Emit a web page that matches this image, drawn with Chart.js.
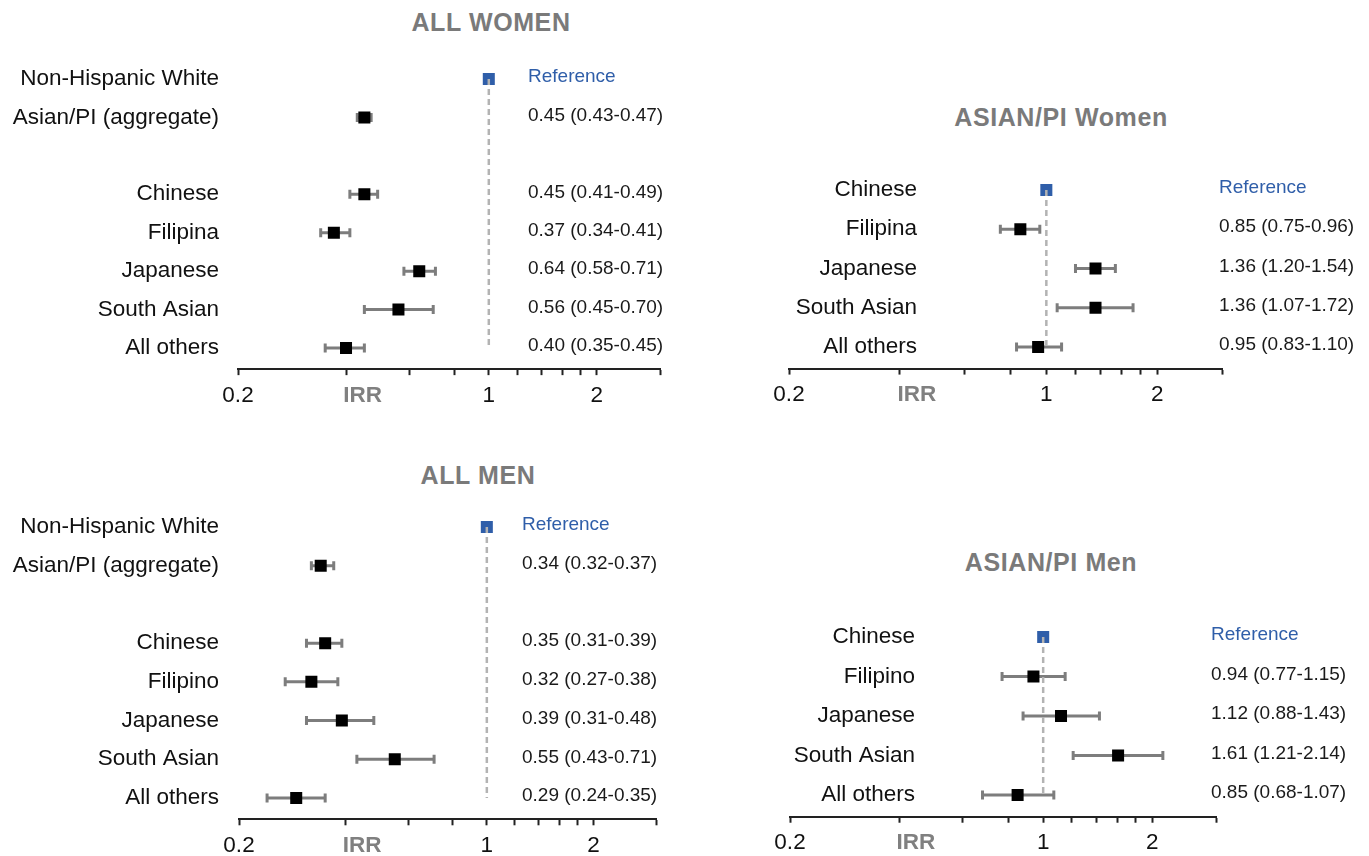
<!DOCTYPE html>
<html>
<head>
<meta charset="utf-8">
<script src="https://cdn.jsdelivr.net/npm/chart.js@4.4.0/dist/chart.umd.min.js"></script>
<style>
  body { margin: 0; width: 1369px; height: 856px; background: #fff; overflow: hidden; position: relative;
         font-family: "Liberation Sans", Arial, Helvetica, sans-serif; }
  canvas { position: absolute; }
  .title { position: absolute; transform: translate(-50%, -50%); font-weight: bold; font-size: 25px;
           letter-spacing: 0.6px; color: #7a7a7a; white-space: nowrap; }
</style>
</head>
<body>
<div class="title" style="left:491px;top:22px">ALL WOMEN</div>
<div class="title" style="left:1061px;top:117px">ASIAN/PI Women</div>
<div class="title" style="left:478px;top:475px">ALL MEN</div>
<div class="title" style="left:1051px;top:562px">ASIAN/PI Men</div>
<canvas id="all-women"></canvas>
<canvas id="asian-women"></canvas>
<canvas id="all-men"></canvas>
<canvas id="asian-men"></canvas>
<script>
// IRR with 95% CI
const women_groups = ["Non-Hispanic White", "Asian/PI (aggregate)", "", "Chinese", "Filipina", "Japanese", "South Asian", "All others"];
const women_irr = [1, 0.45, null, 0.45, 0.37, 0.64, 0.56, 0.40];
const women_low = [null, 0.43, null, 0.41, 0.34, 0.58, 0.45, 0.35];
const women_high = [null, 0.47, null, 0.49, 0.41, 0.71, 0.70, 0.45];

const asian_women_groups = ["Chinese", "Filipina", "Japanese", "South Asian", "All others"];
const asian_women_irr = [1, 0.85, 1.36, 1.36, 0.95];
const asian_women_low = [null, 0.75, 1.20, 1.07, 0.83];
const asian_women_high = [null, 0.96, 1.54, 1.72, 1.10];

const men_groups = ["Non-Hispanic White", "Asian/PI (aggregate)", "", "Chinese", "Filipino", "Japanese", "South Asian", "All others"];
const men_irr = [1, 0.34, null, 0.35, 0.32, 0.39, 0.55, 0.29];
const men_low = [null, 0.32, null, 0.31, 0.27, 0.31, 0.43, 0.24];
const men_high = [null, 0.37, null, 0.39, 0.38, 0.48, 0.71, 0.35];

const asian_men_groups = ["Chinese", "Filipino", "Japanese", "South Asian", "All others"];
const asian_men_irr = [1, 0.94, 1.12, 1.61, 0.85];
const asian_men_low = [null, 0.77, 0.88, 1.21, 0.68];
const asian_men_high = [null, 1.15, 1.43, 2.14, 1.07];

const irr_ticks = [0.2, 0.4, 0.445, 0.6, 0.8, 1, 1.2, 1.4, 1.6, 1.8, 2, 3];
const irr_tick_labels = ["0.2", "", "IRR", "", "", "1", "", "", "", "", "2", ""];

const font_family = '"Liberation Sans", Arial, Helvetica, sans-serif';
const blue = "#2f5ea9";
const grey = "#7d7d7d";

// box = [left, top, width, height] of the canvas, plot = x of 0.2 and 3, rows = y of first and last row
const panels = [
  { id: "all-women", groups: women_groups, irr: women_irr, low: women_low, high: women_high,
    box: [0, 40, 680, 400], plot: [238, 660], rows: [79, 348], label_x: 219, stat_x: 528 },
  { id: "asian-women", groups: asian_women_groups, irr: asian_women_irr, low: asian_women_low, high: asian_women_high,
    box: [690, 140, 679, 300], plot: [789, 1222], rows: [190, 347], label_x: 917, stat_x: 1219 },
  { id: "all-men", groups: men_groups, irr: men_irr, low: men_low, high: men_high,
    box: [0, 480, 680, 376], plot: [239, 656], rows: [527, 798], label_x: 219, stat_x: 522 },
  { id: "asian-men", groups: asian_men_groups, irr: asian_men_irr, low: asian_men_low, high: asian_men_high,
    box: [690, 590, 679, 266], plot: [790, 1216], rows: [637, 795], label_x: 915, stat_x: 1211 },
];

const get_stats = (irr, low, high) => irr.map((v, i) => {
  if (v === null) return "";
  if (low[i] === null) return "Reference";
  return `${v.toFixed(2)} (${low[i].toFixed(2)}-${high[i].toFixed(2)})`;
});

// group names on the left, estimates on the right, one per row of the y scale
const make_row_text = (p) => {
  const stats = get_stats(p.irr, p.low, p.high);
  const label_x = p.label_x - p.box[0];
  const stat_x = p.stat_x - p.box[0];
  return {
    id: "row_text",
    afterDraw: (chart) => {
      const { ctx } = chart;
      const y_scale = chart.scales.y;
      ctx.save();
      ctx.textBaseline = "middle";
      p.groups.forEach((label, i) => {
        const y = y_scale.getPixelForValue(i);
        ctx.font = `22.5px ${font_family}`;
        ctx.fillStyle = "#111";
        ctx.textAlign = "right";
        ctx.fillText(label, label_x, y);
        ctx.font = `19px ${font_family}`;
        ctx.fillStyle = i === 0 ? blue : "#1a1a1a";
        ctx.textAlign = "left";
        ctx.fillText(stats[i], stat_x, y - 2);
      });
      ctx.restore();
    },
  };
};

const get_datasets = (p) => {
  const last = p.groups.length - 1;
  const ref = p.irr[0];
  const ci_sets = [];
  p.irr.forEach((v, i) => {
    if (p.low[i] === null) return;
    ci_sets.push({
      data: [{ x: p.low[i], y: i }, { x: p.high[i], y: i }],
      showLine: true,
      borderColor: grey,
      borderWidth: 3,
      pointStyle: "line",
      pointRotation: 90,
      pointRadius: 4.5,
      pointBorderColor: grey,
      pointBorderWidth: 3,
      order: 3,
    });
  });
  const estimates = p.irr
    .map((v, i) => ({ x: v, y: i }))
    .filter((pt, i) => p.low[i] !== null);
  return [
    {
      data: [{ x: ref, y: 0 }, { x: ref, y: last }],
      showLine: true,
      borderColor: "#b3b3b3",
      borderWidth: 2.5,
      borderDash: [6, 4],
      pointRadius: 0,
      order: 0,
    },
    {
      data: [{ x: ref, y: 0 }],
      pointStyle: "rect",
      pointRadius: 8.5,
      pointBackgroundColor: blue,
      pointBorderWidth: 0,
      order: 1,
    },
    {
      data: estimates,
      pointStyle: "rect",
      pointRadius: 8.5,
      pointBackgroundColor: "#000",
      pointBorderWidth: 0,
      order: 2,
    },
    ...ci_sets,
  ];
};

const get_chart_config = (p) => {
  const n = p.groups.length;
  const band = (p.rows[1] - p.rows[0]) / (n - 1);
  const top = p.rows[0] - 0.5 * band;
  const bottom = p.rows[1] + 0.55 * band;
  const [box_left, box_top, box_width, box_height] = p.box;
  return {
    type: "scatter",
    data: { datasets: get_datasets(p) },
    plugins: [make_row_text(p)],
    options: {
      responsive: false,
      animation: false,
      events: [],
      layout: {
        padding: {
          top: top - box_top,
          bottom: box_top + box_height - bottom - 36,
          left: p.plot[0] - box_left,
          right: box_left + box_width - p.plot[1],
        },
      },
      plugins: { legend: { display: false }, tooltip: { enabled: false } },
      scales: {
        x: {
          type: "logarithmic",
          min: 0.2,
          max: 3,
          bounds: "data",
          afterBuildTicks: (scale) => {
            scale.ticks = irr_ticks.map((v) => ({ value: v }));
          },
          afterFit: (scale) => {
            scale.height = 36;
          },
          ticks: {
            autoSkip: false,
            maxRotation: 0,
            padding: 7,
            callback: (v, i) => irr_tick_labels[i],
            color: (c) => (c.index === 2 ? "#808080" : "#111"),
            font: (c) => ({ family: font_family, size: 22.5, weight: c.index === 2 ? "bold" : "normal" }),
          },
          grid: {
            drawOnChartArea: false,
            drawTicks: true,
            tickLength: 6,
            tickWidth: 2,
            tickColor: (c) => (c.index === 2 ? "rgba(0,0,0,0)" : "#222"),
          },
          border: { display: true, color: "#222", width: 2 },
        },
        y: {
          type: "linear",
          display: false,
          reverse: true,
          min: -0.5,
          max: n - 1 + 0.55,
        },
      },
    },
  };
};

const draw_panel = (p) => {
  const canvas = document.getElementById(p.id);
  const [left, top, width, height] = p.box;
  canvas.width = width;
  canvas.height = height;
  canvas.style.left = left + "px";
  canvas.style.top = top + "px";
  canvas.style.width = width + "px";
  canvas.style.height = height + "px";
  return new Chart(canvas, get_chart_config(p));
};

Chart.defaults.font.family = font_family;
panels.forEach(draw_panel);
</script>
</body>
</html>
